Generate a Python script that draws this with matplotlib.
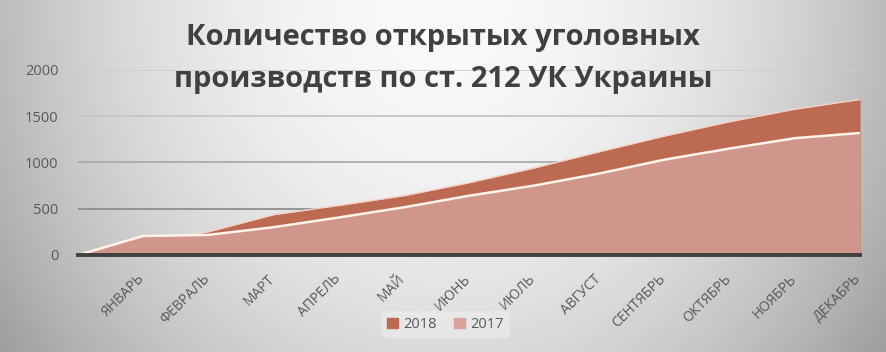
import numpy as np
import matplotlib
matplotlib.use("Agg")
import matplotlib.pyplot as plt
import matplotlib.transforms as mtransforms
from matplotlib.patches import Patch

# months (first category is the empty starting point)
months = ['', 'ЯНВАРЬ', 'ФЕВРАЛЬ', 'МАРТ', 'АПРЕЛЬ', 'МАЙ', 'ИЮНЬ', 'ИЮЛЬ',
          'АВГУСТ', 'СЕНТЯБРЬ', 'ОКТЯБРЬ', 'НОЯБРЬ', 'ДЕКАБРЬ']
cases_2018 = [0, 140, 250, 435, 535, 640, 780, 940, 1115, 1285, 1440, 1575, 1680]
cases_2017 = [0, 205, 217, 300, 405, 515, 640, 750, 880, 1030, 1150, 1262, 1318]

title = 'Количество открытых уголовных\nпроизводств по ст. 212 УК Украины'

col_2018 = '#bd6a53'
col_2017 = '#d0968c'
text_col = '#595959'

plt.rcParams['font.family'] = ['Open Sans', 'DejaVu Sans']

fig = plt.figure(figsize=(8.86, 3.52), dpi=100)

# gray-white gradient background
bg = fig.add_axes([0, 0, 1, 1], zorder=-10)
gx, gy = np.meshgrid(np.linspace(0, 1, 300), np.linspace(0, 1, 120))
shade = 0.975 - 0.95 * ((gx - 0.5) ** 2) - 0.12 * (gy ** 2)
bg.imshow(shade, cmap='gray', vmin=0, vmax=1, aspect='auto', extent=[0, 1, 0, 1])
bg.axis('off')

ax = fig.add_axes([0.088, 0.2756, 0.8827, 0.526])
ax.patch.set_alpha(0)

x = np.arange(len(months))
ax.fill_between(x, cases_2018, color=col_2018, lw=0, zorder=2)
ax.plot(x, cases_2018, color='#f3d2c8', lw=1.0, zorder=3)
ax.fill_between(x, cases_2017, color=col_2017, lw=0, zorder=4)
ax.plot(x, cases_2017, color='#fff3ea', lw=1.8, zorder=5)

ax.set_xlim(0, len(months) - 1)
ax.set_ylim(0, 2000)
ax.set_yticks([0, 500, 1000, 1500, 2000])
ax.yaxis.grid(True, color='#b4b4b4', lw=1.3, zorder=1)
ax.set_axisbelow(True)
# gridlines fade out towards the top, like the original
for gl, c in zip(ax.get_ygridlines(), ['#404040', '#8e8e8e', '#ababab', '#c6c6c6', '#cdcdcd']):
    gl.set_color(c)
ax.axhline(0, color='#404040', lw=2.8, zorder=6, clip_on=False)

ax.set_xticks(x[1:])
ax.set_xticklabels(months[1:], rotation=45, ha='right', rotation_mode='anchor',
                   fontsize=10, color=text_col)
ax.tick_params(axis='x', length=0, pad=9)
shift = mtransforms.ScaledTranslation(-6 / 100, -4 / 100, fig.dpi_scale_trans)
for lab in ax.get_xticklabels():
    lab.set_transform(lab.get_transform() + shift)
ax.tick_params(axis='y', length=0, pad=14, labelsize=10.5, labelcolor=text_col)
for s in ax.spines.values():
    s.set_visible(False)

fig.text(0.5, 0.935, title, ha='center', va='top', fontsize=21,
         fontweight='bold', color='#404040', linespacing=1.6)

handles = [Patch(color=col_2018, label='2018'), Patch(color='#d9a39c', label='2017')]
leg = fig.legend(handles=handles, loc='lower center', bbox_to_anchor=(0.503, 0.02),
                 ncol=2, frameon=True, fontsize=10.5, handlelength=0.7,
                 handleheight=0.7, handletextpad=0.4, columnspacing=1.2,
                 labelcolor=text_col, borderpad=0.4)
leg.get_frame().set_facecolor('#f0f0f0')
leg.get_frame().set_alpha(0.5)
leg.get_frame().set_linewidth(0)

fig.savefig('out.png', dpi=100)
